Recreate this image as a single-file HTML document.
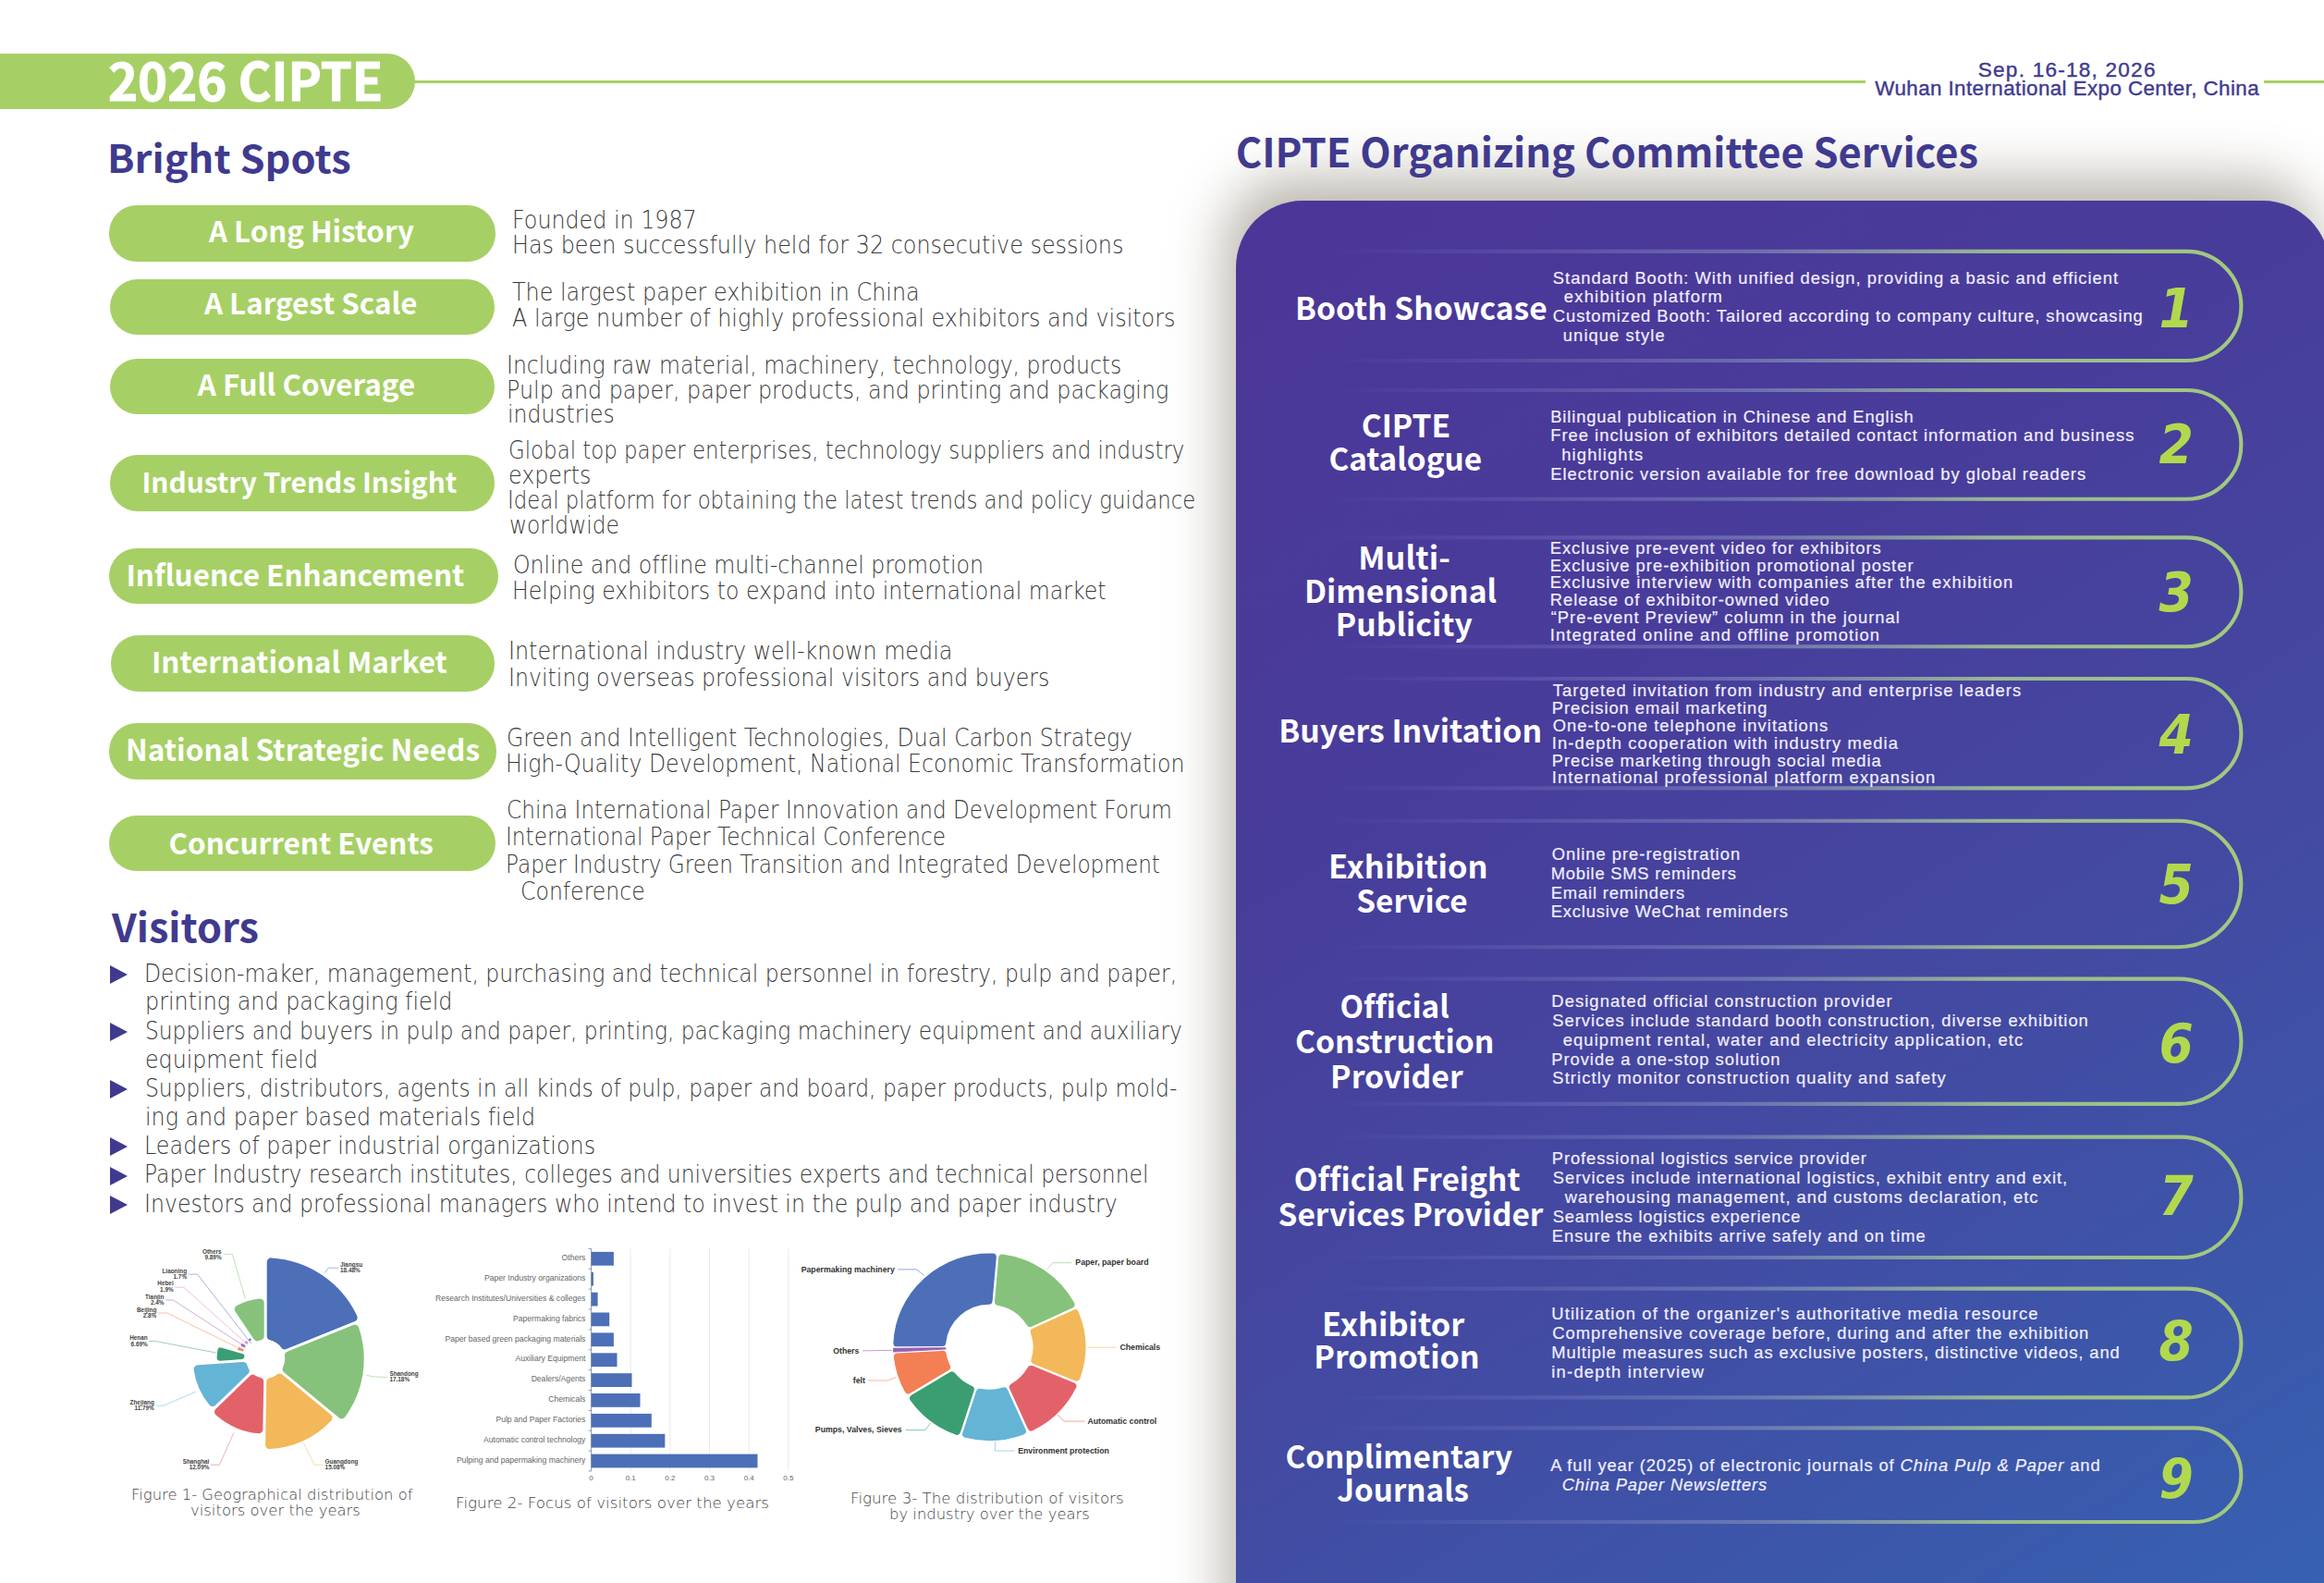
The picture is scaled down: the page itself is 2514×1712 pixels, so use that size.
<!DOCTYPE html>
<html lang="en">
<head>
<meta charset="utf-8">
<title>2026 CIPTE</title>
<style>
html,body{margin:0;padding:0}
body{width:2514px;height:1712px;position:relative;overflow:hidden;background:#fff;font-family:'Liberation Sans',sans-serif}
.abs,.t,.pill,.hp,.hl,.tri,.num,.panel{position:absolute}
header,main,section,article,figure{display:block;margin:0;padding:0;position:static}
h1,h2,h3,p,figcaption{margin:0;padding:0;font-weight:400}
.t{white-space:nowrap;margin:0;font-variant-ligatures:none}
.t.h{font-family:'Noto Sans CJK SC','Liberation Sans',sans-serif;font-weight:700}
.t.b{font-family:'Liberation Sans',sans-serif}
.t.n{font-family:'DejaVu Sans','Liberation Sans',sans-serif;font-weight:200}
.pill{background:#A6D065;border-radius:30px}
.tri{width:0;height:0;border-left:19px solid #403A8F;border-top:10.3px solid transparent;border-bottom:10.3px solid transparent}
.panel{left:1337px;top:216.6px;width:1183px;height:1800px;border-radius:72px;background-color:#3761B1;
 background-image:linear-gradient(148deg,#4C3697 0%,#483D9B 35%,#434AA2 62%,#3B58AB 85%,#3761B1 100%);background-size:100% 1496px;background-repeat:no-repeat;
 box-shadow:-12px -24px 58px rgba(60,50,25,0.36)}
.num{font-family:'DejaVu Sans Condensed','DejaVu Sans','Liberation Sans',sans-serif;font-weight:700;font-style:italic;color:#B2D94D;text-align:center}
svg text.cl{font-family:'Liberation Sans',sans-serif;font-weight:700;font-size:6.4px;fill:#444}
svg text.bl{font-family:'Liberation Sans',sans-serif;font-size:8.6px;fill:#666}
svg text.ax{font-family:'Liberation Sans',sans-serif;font-size:8px;fill:#666}
svg text.dl{font-family:'Liberation Sans',sans-serif;font-weight:700;font-size:8.75px;fill:#333}
</style>
</head>
<body>
<header>
<div class="hp" style="left:0;top:58px;width:449px;height:59.5px;border-radius:0 30px 30px 0;background:#A6D065"></div>
<div class="hl" style="left:440px;top:87.2px;width:1578px;height:3px;background:#A6D065"></div>
<div class="hl" style="left:2449px;top:87.2px;width:65px;height:3px;background:#A6D065"></div>
<h1 class="t h" style="left:117.0px;top:50.7px;font-size:56.30px;line-height:68px;color:#fff;transform:scaleX(0.9670);transform-origin:0 0;-webkit-text-stroke:1.1px #fff;">2026 CIPTE</h1>
<p class="t b" style="left:2139.8px;top:61.9px;font-size:22.60px;line-height:27px;color:#403A8F;letter-spacing:1.220px;-webkit-text-stroke:0.4px #403A8F;">Sep. 16-18, 2026</p>
<p class="t b" style="left:2028.3px;top:81.9px;font-size:22.40px;line-height:27px;color:#403A8F;letter-spacing:0.405px;-webkit-text-stroke:0.4px #403A8F;">Wuhan International Expo Center, China</p>
</header>
<div class="panel"></div>
<main>
<section id="bright-spots">
<h2 class="t h" style="left:116.1px;top:145.2px;font-size:41.20px;line-height:49px;color:#403A8F;transform:scaleX(1.0540);transform-origin:0 0;">Bright Spots</h2>
<article>
<div class="pill" style="left:118.0px;top:222.4px;width:417.8px;height:60.7px"></div>
<h3 class="t h" style="left:226.0px;top:229.5px;font-size:31.22px;line-height:37px;color:#fff;">A Long History</h3>
<p class="t n" style="left:553.9px;top:223.1px;font-size:26.00px;line-height:31px;color:#3a3a3a;transform:scaleX(0.9147);transform-origin:0 0;">Founded in 1987</p>
<p class="t n" style="left:553.8px;top:250.0px;font-size:26.00px;line-height:31px;color:#3a3a3a;transform:scaleX(0.9190);transform-origin:0 0;">Has been successfully held for 32 consecutive sessions</p>
</article>
<article>
<div class="pill" style="left:119.0px;top:301.8px;width:415.5px;height:59.9px"></div>
<h3 class="t h" style="left:220.9px;top:308.4px;font-size:31.31px;line-height:38px;color:#fff;">A Largest Scale</h3>
<p class="t n" style="left:553.8px;top:301.3px;font-size:26.00px;line-height:31px;color:#3a3a3a;transform:scaleX(0.9178);transform-origin:0 0;">The largest paper exhibition in China</p>
<p class="t n" style="left:553.8px;top:328.8px;font-size:26.00px;line-height:31px;color:#3a3a3a;transform:scaleX(0.9166);transform-origin:0 0;">A large number of highly professional exhibitors and visitors</p>
</article>
<article>
<div class="pill" style="left:119.0px;top:387.5px;width:415.5px;height:60.0px"></div>
<h3 class="t h" style="left:213.7px;top:395.6px;font-size:31.39px;line-height:38px;color:#fff;">A Full Coverage</h3>
<p class="t n" style="left:547.7px;top:379.7px;font-size:26.00px;line-height:31px;color:#3a3a3a;transform:scaleX(0.9048);transform-origin:0 0;">Including raw material, machinery, technology, products</p>
<p class="t n" style="left:547.7px;top:407.1px;font-size:26.00px;line-height:31px;color:#3a3a3a;transform:scaleX(0.9158);transform-origin:0 0;">Pulp and paper, paper products, and printing and packaging</p>
<p class="t n" style="left:548.6px;top:433.4px;font-size:26.00px;line-height:31px;color:#3a3a3a;transform:scaleX(0.9048);transform-origin:0 0;">industries</p>
</article>
<article>
<div class="pill" style="left:118.5px;top:492.3px;width:416.5px;height:60.3px"></div>
<h3 class="t h" style="left:153.4px;top:502.3px;font-size:29.89px;line-height:36px;color:#fff;">Industry Trends Insight</h3>
<p class="t n" style="left:549.7px;top:471.8px;font-size:26.00px;line-height:31px;color:#3a3a3a;transform:scaleX(0.8804);transform-origin:0 0;">Global top paper enterprises, technology suppliers and industry</p>
<p class="t n" style="left:549.7px;top:498.8px;font-size:26.00px;line-height:31px;color:#3a3a3a;transform:scaleX(0.9140);transform-origin:0 0;">experts</p>
<p class="t n" style="left:548.9px;top:525.8px;font-size:26.00px;line-height:31px;color:#3a3a3a;transform:scaleX(0.8776);transform-origin:0 0;">Ideal platform for obtaining the latest trends and policy guidance</p>
<p class="t n" style="left:550.6px;top:552.5px;font-size:26.00px;line-height:31px;color:#3a3a3a;transform:scaleX(0.8960);transform-origin:0 0;">worldwide</p>
</article>
<article>
<div class="pill" style="left:118.0px;top:592.9px;width:420.5px;height:60.3px"></div>
<h3 class="t h" style="left:136.5px;top:602.3px;font-size:31.44px;line-height:38px;color:#fff;">Influence Enhancement</h3>
<p class="t n" style="left:554.8px;top:596.2px;font-size:26.00px;line-height:31px;color:#3a3a3a;transform:scaleX(0.9100);transform-origin:0 0;">Online and offline multi-channel promotion</p>
<p class="t n" style="left:553.9px;top:623.6px;font-size:26.00px;line-height:31px;color:#3a3a3a;transform:scaleX(0.9091);transform-origin:0 0;">Helping exhibitors to expand into international market</p>
</article>
<article>
<div class="pill" style="left:119.5px;top:687.0px;width:415.0px;height:60.5px"></div>
<h3 class="t h" style="left:163.9px;top:696.2px;font-size:31.46px;line-height:38px;color:#fff;">International Market</h3>
<p class="t n" style="left:550.0px;top:688.5px;font-size:26.00px;line-height:31px;color:#3a3a3a;transform:scaleX(0.9158);transform-origin:0 0;">International industry well-known media</p>
<p class="t n" style="left:550.0px;top:717.6px;font-size:26.00px;line-height:31px;color:#3a3a3a;transform:scaleX(0.9098);transform-origin:0 0;">Inviting overseas professional visitors and buyers</p>
</article>
<article>
<div class="pill" style="left:117.5px;top:781.8px;width:419.0px;height:61.0px"></div>
<h3 class="t h" style="left:136.0px;top:789.6px;font-size:31.64px;line-height:38px;color:#fff;">National Strategic Needs</h3>
<p class="t n" style="left:548.1px;top:783.0px;font-size:26.00px;line-height:31px;color:#3a3a3a;transform:scaleX(0.9079);transform-origin:0 0;">Green and Intelligent Technologies, Dual Carbon Strategy</p>
<p class="t n" style="left:547.2px;top:810.5px;font-size:26.00px;line-height:31px;color:#3a3a3a;transform:scaleX(0.9092);transform-origin:0 0;">High-Quality Development, National Economic Transformation</p>
</article>
<article>
<div class="pill" style="left:118.0px;top:882.0px;width:417.5px;height:60.2px"></div>
<h3 class="t h" style="left:182.4px;top:892.3px;font-size:31.44px;line-height:38px;color:#fff;">Concurrent Events</h3>
<p class="t n" style="left:548.1px;top:861.4px;font-size:26.00px;line-height:31px;color:#3a3a3a;transform:scaleX(0.8915);transform-origin:0 0;">China International Paper Innovation and Development Forum</p>
<p class="t n" style="left:547.2px;top:890.4px;font-size:26.00px;line-height:31px;color:#3a3a3a;transform:scaleX(0.8945);transform-origin:0 0;">International Paper Technical Conference</p>
<p class="t n" style="left:547.2px;top:919.5px;font-size:26.00px;line-height:31px;color:#3a3a3a;transform:scaleX(0.8918);transform-origin:0 0;">Paper Industry Green Transition and Integrated Development</p>
<p class="t n" style="left:563.2px;top:948.6px;font-size:26.00px;line-height:31px;color:#3a3a3a;transform:scaleX(0.9067);transform-origin:0 0;">Conference</p>
</article>
</section>
<section id="visitors">
<h2 class="t h" style="left:121.3px;top:974.9px;font-size:42.30px;line-height:51px;color:#403A8F;transform:scaleX(1.0230);transform-origin:0 0;">Visitors</h2>
<div class="tri" style="left:118.6px;top:1044.1px"></div>
<div class="tri" style="left:118.6px;top:1106.2px"></div>
<div class="tri" style="left:118.6px;top:1168.2px"></div>
<div class="tri" style="left:118.6px;top:1230.3px"></div>
<div class="tri" style="left:118.6px;top:1261.7px"></div>
<div class="tri" style="left:118.6px;top:1293.0px"></div>
<p class="t n" style="left:155.6px;top:1037.7px;font-size:26.00px;line-height:31px;color:#3a3a3a;transform:scaleX(0.9042);transform-origin:0 0;">Decision-maker, management, purchasing and technical personnel in forestry, pulp and paper,</p>
<p class="t n" style="left:156.5px;top:1068.4px;font-size:26.00px;line-height:31px;color:#3a3a3a;transform:scaleX(0.9176);transform-origin:0 0;">printing and packaging field</p>
<p class="t n" style="left:156.5px;top:1099.8px;font-size:26.00px;line-height:31px;color:#3a3a3a;transform:scaleX(0.8972);transform-origin:0 0;">Suppliers and buyers in pulp and paper, printing, packaging machinery equipment and auxiliary</p>
<p class="t n" style="left:156.5px;top:1130.5px;font-size:26.00px;line-height:31px;color:#3a3a3a;transform:scaleX(0.9119);transform-origin:0 0;">equipment field</p>
<p class="t n" style="left:156.5px;top:1161.8px;font-size:26.00px;line-height:31px;color:#3a3a3a;transform:scaleX(0.9013);transform-origin:0 0;">Suppliers, distributors, agents in all kinds of pulp, paper and board, paper products, pulp mold-</p>
<p class="t n" style="left:156.5px;top:1193.2px;font-size:26.00px;line-height:31px;color:#3a3a3a;transform:scaleX(0.9138);transform-origin:0 0;">ing and paper based materials field</p>
<p class="t n" style="left:155.5px;top:1223.9px;font-size:26.00px;line-height:31px;color:#3a3a3a;transform:scaleX(0.9170);transform-origin:0 0;">Leaders of paper industrial organizations</p>
<p class="t n" style="left:155.6px;top:1255.3px;font-size:26.00px;line-height:31px;color:#3a3a3a;transform:scaleX(0.9028);transform-origin:0 0;">Paper Industry research institutes, colleges and universities experts and technical personnel</p>
<p class="t n" style="left:155.6px;top:1286.6px;font-size:26.00px;line-height:31px;color:#3a3a3a;transform:scaleX(0.9088);transform-origin:0 0;">Investors and professional managers who intend to invest in the pulp and paper industry</p>
<figure>
<svg class="abs" style="left:0;top:1330px" width="1300" height="382" viewBox="0 1330 1300 382">
<g id="fig1">
<path d="M293.20,1364.87 A105.00,105.00 0 0 1 382.15,1424.87 L307.93,1454.85 A25.50,25.50 0 0 0 293.20,1444.92 Z" fill="#4C6FB7" stroke="#4C6FB7" stroke-width="9" stroke-linejoin="round"/>
<path d="M383.86,1437.12 A102.00,102.00 0 0 1 369.59,1529.84 L310.14,1480.83 A25.50,25.50 0 0 0 312.43,1465.98 Z" fill="#86C27B" stroke="#86C27B" stroke-width="9" stroke-linejoin="round"/>
<path d="M355.00,1533.36 A93.00,93.00 0 0 1 291.58,1562.60 L292.77,1494.59 A25.50,25.50 0 0 0 302.51,1490.09 Z" fill="#F3B85A" stroke="#F3B85A" stroke-width="9" stroke-linejoin="round"/>
<path d="M279.87,1545.85 A76.50,76.50 0 0 1 236.51,1526.99 L273.54,1491.23 A25.50,25.50 0 0 0 280.77,1494.38 Z" fill="#E3626A" stroke="#E3626A" stroke-width="9" stroke-linejoin="round"/>
<path d="M229.98,1516.62 A74.00,74.00 0 0 1 214.04,1480.83 L262.89,1477.41 A25.50,25.50 0 0 0 265.20,1482.60 Z" fill="#64B4D6" stroke="#64B4D6" stroke-width="9" stroke-linejoin="round"/>
<path d="M237.61,1468.66 A49.60,49.60 0 0 1 238.48,1460.41 L261.43,1466.99 Z" fill="#3A9E72" stroke="#3A9E72" stroke-width="6" stroke-linejoin="round"/>
<path d="M257.18,1459.69 A31.65,31.65 0 0 1 258.19,1457.05 L263.41,1459.60 A25.85,25.85 0 0 0 262.76,1461.29 Z" fill="#F37F54" stroke="#F37F54" stroke-width="0.6" stroke-linejoin="round" opacity="0.9"/>
<path d="M260.72,1455.28 A30.15,30.15 0 0 1 262.04,1453.09 L265.52,1455.62 A25.85,25.85 0 0 0 264.59,1457.17 Z" fill="#9560B0" stroke="#9560B0" stroke-width="0.6" stroke-linejoin="round" opacity="0.9"/>
<path d="M264.84,1451.79 A28.65,28.65 0 0 1 266.35,1450.05 L268.30,1452.07 A25.85,25.85 0 0 0 267.11,1453.43 Z" fill="#E57FC8" stroke="#E57FC8" stroke-width="0.6" stroke-linejoin="round" opacity="0.9"/>
<path d="M268.99,1448.90 A27.65,27.65 0 0 1 270.64,1447.56 L271.65,1449.05 A25.85,25.85 0 0 0 270.24,1450.19 Z" fill="#4C6FB7" stroke="#4C6FB7" stroke-width="0.6" stroke-linejoin="round" opacity="0.9"/>
<path d="M258.23,1416.02 A61.00,61.00 0 0 1 281.20,1409.00 L281.20,1444.92 A25.50,25.50 0 0 0 278.32,1445.80 Z" fill="#86C27B" stroke="#86C27B" stroke-width="9" stroke-linejoin="round"/>
<polyline points="366.4,1371.2 355.2,1371.2 351.6,1376.5" fill="none" stroke="#4C6FB7" stroke-width="0.6" opacity="0.85"/>
<text x="368.0" y="1369.9" text-anchor="start" class="cl">Jiangsu</text>
<text x="368.0" y="1376.4" text-anchor="start" class="cl">18.48%</text>
<polyline points="419.2,1489.5 402.8,1488.8 396.3,1487.2" fill="none" stroke="#86C27B" stroke-width="0.6" opacity="0.85"/>
<text x="421.4" y="1487.7" text-anchor="start" class="cl">Shandong</text>
<text x="421.4" y="1494.2" text-anchor="start" class="cl">17.18%</text>
<polyline points="349.9,1584.2 340.1,1584.2 328.6,1560.9" fill="none" stroke="#F3B85A" stroke-width="0.6" opacity="0.85"/>
<text x="351.6" y="1582.9" text-anchor="start" class="cl">Guangdong</text>
<text x="351.6" y="1589.4" text-anchor="start" class="cl">15.08%</text>
<polyline points="227.9,1584.2 237.4,1584.2 253.0,1549.4" fill="none" stroke="#E3626A" stroke-width="0.6" opacity="0.85"/>
<text x="226.4" y="1582.9" text-anchor="end" class="cl">Shanghai</text>
<text x="226.4" y="1589.4" text-anchor="end" class="cl">12.09%</text>
<polyline points="168.5,1520.2 176.7,1520.2 212.0,1505.1" fill="none" stroke="#64B4D6" stroke-width="0.6" opacity="0.85"/>
<text x="166.8" y="1518.9" text-anchor="end" class="cl">Zhejiang</text>
<text x="166.8" y="1525.4" text-anchor="end" class="cl">11.79%</text>
<polyline points="161.1,1450.4 167.6,1450.4 233.3,1462.9" fill="none" stroke="#3A9E72" stroke-width="0.6" opacity="0.85"/>
<text x="159.7" y="1449.1" text-anchor="end" class="cl">Henan</text>
<text x="159.7" y="1455.6" text-anchor="end" class="cl">6.69%</text>
<polyline points="170.9,1420.0 180.8,1420.0 256.3,1456.9" fill="none" stroke="#F37F54" stroke-width="0.6" opacity="0.85"/>
<text x="169.3" y="1418.7" text-anchor="end" class="cl">Beijing</text>
<text x="169.3" y="1425.2" text-anchor="end" class="cl">2.8%</text>
<polyline points="179.1,1406.0 187.3,1406.0 262.9,1455.0" fill="none" stroke="#9560B0" stroke-width="0.6" opacity="0.85"/>
<text x="177.5" y="1404.7" text-anchor="end" class="cl">Tianjin</text>
<text x="177.5" y="1411.2" text-anchor="end" class="cl">2.4%</text>
<polyline points="189.0,1392.2 198.8,1392.2 267.8,1454.1" fill="none" stroke="#E57FC8" stroke-width="0.6" opacity="0.85"/>
<text x="187.7" y="1390.4" text-anchor="end" class="cl">Hebei</text>
<text x="187.7" y="1396.9" text-anchor="end" class="cl">1.9%</text>
<polyline points="203.8,1378.1 213.6,1378.1 271.9,1453.3" fill="none" stroke="#4C6FB7" stroke-width="0.6" opacity="0.85"/>
<text x="202.1" y="1376.5" text-anchor="end" class="cl">Liaoning</text>
<text x="202.1" y="1383.0" text-anchor="end" class="cl">1.7%</text>
<polyline points="241.5,1356.4 251.4,1356.4 265.4,1404.9" fill="none" stroke="#86C27B" stroke-width="0.6" opacity="0.85"/>
<text x="239.6" y="1355.8" text-anchor="end" class="cl">Others</text>
<text x="239.6" y="1362.3" text-anchor="end" class="cl">9.89%</text>
</g>
<g id="fig2">
<line x1="682.2" y1="1350.4" x2="682.2" y2="1591" stroke="#e4e4e8" stroke-width="0.8"/>
<line x1="724.9" y1="1350.4" x2="724.9" y2="1591" stroke="#e4e4e8" stroke-width="0.8"/>
<line x1="767.5" y1="1350.4" x2="767.5" y2="1591" stroke="#e4e4e8" stroke-width="0.8"/>
<line x1="810.2" y1="1350.4" x2="810.2" y2="1591" stroke="#e4e4e8" stroke-width="0.8"/>
<line x1="852.8" y1="1350.4" x2="852.8" y2="1591" stroke="#e4e4e8" stroke-width="0.8"/>
<line x1="639.6" y1="1350.4" x2="639.6" y2="1591" stroke="#6a6f7a" stroke-width="0.7"/>
<line x1="636.6" y1="1350.4" x2="639.6" y2="1350.4" stroke="#6a6f7a" stroke-width="0.7"/>
<line x1="636.6" y1="1372.3" x2="639.6" y2="1372.3" stroke="#6a6f7a" stroke-width="0.7"/>
<line x1="636.6" y1="1394.1" x2="639.6" y2="1394.1" stroke="#6a6f7a" stroke-width="0.7"/>
<line x1="636.6" y1="1416.0" x2="639.6" y2="1416.0" stroke="#6a6f7a" stroke-width="0.7"/>
<line x1="636.6" y1="1437.9" x2="639.6" y2="1437.9" stroke="#6a6f7a" stroke-width="0.7"/>
<line x1="636.6" y1="1459.8" x2="639.6" y2="1459.8" stroke="#6a6f7a" stroke-width="0.7"/>
<line x1="636.6" y1="1481.6" x2="639.6" y2="1481.6" stroke="#6a6f7a" stroke-width="0.7"/>
<line x1="636.6" y1="1503.5" x2="639.6" y2="1503.5" stroke="#6a6f7a" stroke-width="0.7"/>
<line x1="636.6" y1="1525.4" x2="639.6" y2="1525.4" stroke="#6a6f7a" stroke-width="0.7"/>
<line x1="636.6" y1="1547.2" x2="639.6" y2="1547.2" stroke="#6a6f7a" stroke-width="0.7"/>
<line x1="636.6" y1="1569.1" x2="639.6" y2="1569.1" stroke="#6a6f7a" stroke-width="0.7"/>
<line x1="636.6" y1="1591.0" x2="639.6" y2="1591.0" stroke="#6a6f7a" stroke-width="0.7"/>
<rect x="639.6" y="1353.9" width="24.3" height="14.8" fill="#4C6FB7"/>
<text x="633.4" y="1363.0" text-anchor="end" class="bl">Others</text>
<rect x="639.6" y="1375.8" width="2.3" height="14.8" fill="#4C6FB7"/>
<text x="633.4" y="1384.9" text-anchor="end" class="bl">Paper Industry organizations</text>
<rect x="639.6" y="1397.7" width="7.0" height="14.8" fill="#4C6FB7"/>
<text x="633.4" y="1406.8" text-anchor="end" class="bl">Research Institutes/Universities &amp; colleges</text>
<rect x="639.6" y="1419.5" width="19.6" height="14.8" fill="#4C6FB7"/>
<text x="633.4" y="1428.6" text-anchor="end" class="bl">Papermaking fabrics</text>
<rect x="639.6" y="1441.4" width="24.3" height="14.8" fill="#4C6FB7"/>
<text x="633.4" y="1450.5" text-anchor="end" class="bl">Paper based green packaging materials</text>
<rect x="639.6" y="1463.3" width="27.9" height="14.8" fill="#4C6FB7"/>
<text x="633.4" y="1472.4" text-anchor="end" class="bl">Auxiliary Equipment</text>
<rect x="639.6" y="1485.2" width="43.9" height="14.8" fill="#4C6FB7"/>
<text x="633.4" y="1494.3" text-anchor="end" class="bl">Dealers/Agents</text>
<rect x="639.6" y="1507.0" width="52.9" height="14.8" fill="#4C6FB7"/>
<text x="633.4" y="1516.1" text-anchor="end" class="bl">Chemicals</text>
<rect x="639.6" y="1528.9" width="65.2" height="14.8" fill="#4C6FB7"/>
<text x="633.4" y="1538.0" text-anchor="end" class="bl">Pulp and Paper Factories</text>
<rect x="639.6" y="1550.8" width="79.7" height="14.8" fill="#4C6FB7"/>
<text x="633.4" y="1559.9" text-anchor="end" class="bl">Automatic control technology</text>
<rect x="639.6" y="1572.6" width="179.9" height="14.8" fill="#4C6FB7"/>
<text x="633.4" y="1581.7" text-anchor="end" class="bl">Pulping and papermaking machinery</text>
<text x="639.6" y="1601.2" text-anchor="middle" class="ax">0</text>
<text x="682.2" y="1601.2" text-anchor="middle" class="ax">0.1</text>
<text x="724.9" y="1601.2" text-anchor="middle" class="ax">0.2</text>
<text x="767.5" y="1601.2" text-anchor="middle" class="ax">0.3</text>
<text x="810.2" y="1601.2" text-anchor="middle" class="ax">0.4</text>
<text x="852.8" y="1601.2" text-anchor="middle" class="ax">0.5</text>
</g>
<g id="fig3">
<g transform="translate(1070.3,1456.8) scale(1.012,0.985) translate(-1070.3,-1456.8)">
<path d="M971.60,1452.29 A98.80,98.80 0 0 1 1073.72,1358.06 L1069.52,1406.11 A50.70,50.70 0 0 0 1019.83,1451.95 Z" fill="#4C6FB7" stroke="#4C6FB7" stroke-width="8" stroke-linejoin="round"/>
<path d="M1084.08,1358.97 A98.80,98.80 0 0 1 1157.44,1410.24 L1113.76,1430.70 A50.70,50.70 0 0 0 1079.88,1407.01 Z" fill="#86C27B" stroke="#86C27B" stroke-width="8" stroke-linejoin="round"/>
<path d="M1161.85,1419.66 A98.80,98.80 0 0 1 1163.33,1490.08 L1118.83,1471.47 A50.70,50.70 0 0 0 1118.18,1440.12 Z" fill="#F3B85A" stroke="#F3B85A" stroke-width="8" stroke-linejoin="round"/>
<path d="M1159.31,1499.67 A98.80,98.80 0 0 1 1115.03,1544.90 L1095.49,1500.80 A50.70,50.70 0 0 0 1114.82,1481.06 Z" fill="#E3626A" stroke="#E3626A" stroke-width="8" stroke-linejoin="round"/>
<path d="M1105.52,1549.11 A98.80,98.80 0 0 1 1045.42,1552.42 L1060.01,1506.44 A50.70,50.70 0 0 0 1085.98,1505.01 Z" fill="#64B4D6" stroke="#64B4D6" stroke-width="8" stroke-linejoin="round"/>
<path d="M1035.51,1549.27 A98.80,98.80 0 0 1 989.09,1513.07 L1030.12,1487.73 A50.70,50.70 0 0 0 1050.09,1503.30 Z" fill="#3A9E72" stroke="#3A9E72" stroke-width="8" stroke-linejoin="round"/>
<path d="M983.62,1504.22 A98.80,98.80 0 0 1 972.10,1467.67 L1020.25,1464.89 A50.70,50.70 0 0 0 1024.66,1478.88 Z" fill="#F37F54" stroke="#F37F54" stroke-width="8" stroke-linejoin="round"/>
<path d="M967.94,1462.20 A102.50,102.50 0 0 1 967.81,1458.37 L1023.31,1457.79 A47.00,47.00 0 0 0 1023.35,1459.01 Z" fill="#9560B0" stroke="#9560B0" stroke-width="1" stroke-linejoin="round"/>
</g>
<polyline points="971.3,1372.9 991.5,1372.9 999.6,1379.4" fill="none" stroke="#4C6FB7" stroke-width="0.7" opacity="0.85"/>
<text x="967.8" y="1375.5" text-anchor="end" class="dl">Papermaking machinery</text>
<polyline points="1159.2,1365.7 1139.0,1365.7 1133.0,1372.3" fill="none" stroke="#86C27B" stroke-width="0.7" opacity="0.85"/>
<text x="1163.3" y="1368.1" text-anchor="start" class="dl">Paper, paper board</text>
<polyline points="1207.7,1457.2 1176.4,1457.2" fill="none" stroke="#F3B85A" stroke-width="0.7" opacity="0.85"/>
<text x="1211.4" y="1460.0" text-anchor="start" class="dl">Chemicals</text>
<polyline points="1173.4,1537.1 1151.2,1537.1 1144.1,1530.0" fill="none" stroke="#E3626A" stroke-width="0.7" opacity="0.85"/>
<text x="1176.4" y="1539.7" text-anchor="start" class="dl">Automatic control</text>
<polyline points="1097.6,1569.0 1076.4,1569.0 1076.4,1559.3" fill="none" stroke="#64B4D6" stroke-width="0.7" opacity="0.85"/>
<text x="1101.2" y="1571.6" text-anchor="start" class="dl">Environment protection</text>
<polyline points="979.4,1546.6 1000.6,1546.6 1006.6,1539.1" fill="none" stroke="#3A9E72" stroke-width="0.7" opacity="0.85"/>
<text x="975.7" y="1549.4" text-anchor="end" class="dl">Pumps, Valves, Sieves</text>
<polyline points="938.9,1493.0 960.2,1493.0 969.2,1489.6" fill="none" stroke="#F37F54" stroke-width="0.7" opacity="0.85"/>
<text x="935.9" y="1495.8" text-anchor="end" class="dl">felt</text>
<polyline points="932.9,1460.9 965.2,1460.3" fill="none" stroke="#9560B0" stroke-width="0.7" opacity="0.85"/>
<text x="929.4" y="1463.5" text-anchor="end" class="dl">Others</text>
</g>
</svg>
<figcaption class="t n" style="left:141.7px;top:1606.5px;font-size:16.60px;line-height:20px;color:#444;transform:scaleX(0.9886);transform-origin:0 0;">Figure 1- Geographical distribution of</figcaption>
<figcaption class="t n" style="left:205.9px;top:1623.9px;font-size:16.60px;line-height:20px;color:#444;transform:scaleX(0.9913);transform-origin:0 0;">visitors over the years</figcaption>
<figcaption class="t n" style="left:493.0px;top:1616.0px;font-size:16.60px;line-height:20px;color:#444;transform:scaleX(1.0072);transform-origin:0 0;">Figure 2- Focus of visitors over the years</figcaption>
<figcaption class="t n" style="left:919.8px;top:1610.9px;font-size:16.60px;line-height:20px;color:#444;transform:scaleX(1.0048);transform-origin:0 0;">Figure 3- The distribution of visitors</figcaption>
<figcaption class="t n" style="left:962.2px;top:1628.2px;font-size:16.60px;line-height:20px;color:#444;transform:scaleX(0.9886);transform-origin:0 0;">by industry over the years</figcaption>
</figure>
</section>
<section id="services">
<h2 class="t h" style="left:1336.7px;top:136.8px;font-size:43.43px;line-height:52px;color:#403A8F;">CIPTE Organizing Committee Services</h2>
<svg class="abs" style="left:0;top:0" width="2514" height="1712" viewBox="0 0 2514 1712">
<defs><linearGradient id="cg" gradientUnits="userSpaceOnUse" x1="1440" y1="0" x2="2430" y2="0"><stop offset="0" stop-color="#8f86d0" stop-opacity="0"/><stop offset="0.2" stop-color="#8f8ad0" stop-opacity="0.22"/><stop offset="0.45" stop-color="#8f9cc0" stop-opacity="0.5"/><stop offset="0.72" stop-color="#9dbd92" stop-opacity="0.95"/><stop offset="1" stop-color="#a3ca7c" stop-opacity="1"/></linearGradient></defs>
<path d="M1440,271.90 H2365.350 A59.050,59.050 0 0 1 2365.350,390.00 H1440" fill="none" stroke="url(#cg)" stroke-width="4.1"/>
<path d="M1440,422.00 H2365.500 A58.900,58.900 0 0 1 2365.500,539.80 H1440" fill="none" stroke="url(#cg)" stroke-width="4.1"/>
<path d="M1440,581.40 H2365.500 A58.900,58.900 0 0 1 2365.500,699.20 H1440" fill="none" stroke="url(#cg)" stroke-width="4.1"/>
<path d="M1440,734.00 H2365.200 A59.200,59.200 0 0 1 2365.200,852.40 H1440" fill="none" stroke="url(#cg)" stroke-width="4.1"/>
<path d="M1440,887.80 H2356.200 A68.200,68.200 0 0 1 2356.200,1024.20 H1440" fill="none" stroke="url(#cg)" stroke-width="4.1"/>
<path d="M1440,1058.60 H2356.750 A67.650,67.650 0 0 1 2356.750,1193.90 H1440" fill="none" stroke="url(#cg)" stroke-width="4.1"/>
<path d="M1440,1229.60 H2359.200 A65.200,65.200 0 0 1 2359.200,1360.00 H1440" fill="none" stroke="url(#cg)" stroke-width="4.1"/>
<path d="M1440,1393.60 H2365.500 A58.900,58.900 0 0 1 2365.500,1511.40 H1440" fill="none" stroke="url(#cg)" stroke-width="4.1"/>
<path d="M1440,1544.40 H2373.600 A50.800,50.800 0 0 1 2373.600,1646.00 H1440" fill="none" stroke="url(#cg)" stroke-width="4.1"/>
</svg>
<article>
<h3 class="t h" style="left:1401.0px;top:311.6px;font-size:33.63px;line-height:40px;color:#fff;">Booth Showcase</h3>
<p class="t b" style="left:1679.8px;top:289.9px;font-size:18.40px;line-height:22px;color:#F1EEFF;letter-spacing:0.981px;-webkit-text-stroke:0.2px #F1EEFF;">Standard Booth: With unified design, providing a basic and efficient</p>
<p class="t b" style="left:1691.8px;top:310.2px;font-size:18.40px;line-height:22px;color:#F1EEFF;letter-spacing:1.215px;-webkit-text-stroke:0.2px #F1EEFF;">exhibition platform</p>
<p class="t b" style="left:1679.8px;top:331.1px;font-size:18.40px;line-height:22px;color:#F1EEFF;letter-spacing:0.937px;-webkit-text-stroke:0.2px #F1EEFF;">Customized Booth: Tailored according to company culture, showcasing</p>
<p class="t b" style="left:1690.8px;top:352.0px;font-size:18.40px;line-height:22px;color:#F1EEFF;letter-spacing:1.062px;-webkit-text-stroke:0.2px #F1EEFF;">unique style</p>
<div class="num" style="left:2314px;top:298.6px;width:80px;line-height:70px;font-size:59.5px">1</div>
</article>
<article>
<h3 class="t h" style="left:1472.7px;top:438.8px;font-size:33.62px;line-height:40px;color:#fff;">CIPTE</h3>
<h3 class="t h" style="left:1437.4px;top:474.8px;font-size:33.35px;line-height:40px;color:#fff;">Catalogue</h3>
<p class="t b" style="left:1677.2px;top:439.8px;font-size:18.40px;line-height:22px;color:#F1EEFF;letter-spacing:0.854px;-webkit-text-stroke:0.2px #F1EEFF;">Bilingual publication in Chinese and English</p>
<p class="t b" style="left:1677.2px;top:460.2px;font-size:18.40px;line-height:22px;color:#F1EEFF;letter-spacing:0.999px;-webkit-text-stroke:0.2px #F1EEFF;">Free inclusion of exhibitors detailed contact information and business</p>
<p class="t b" style="left:1689.2px;top:481.1px;font-size:18.40px;line-height:22px;color:#F1EEFF;letter-spacing:1.133px;-webkit-text-stroke:0.2px #F1EEFF;">highlights</p>
<p class="t b" style="left:1677.2px;top:502.0px;font-size:18.40px;line-height:22px;color:#F1EEFF;letter-spacing:0.996px;-webkit-text-stroke:0.2px #F1EEFF;">Electronic version available for free download by global readers</p>
<div class="num" style="left:2314px;top:445.5px;width:80px;line-height:70px;font-size:59.5px">2</div>
</article>
<article>
<h3 class="t h" style="left:1469.3px;top:580.5px;font-size:34.35px;line-height:41px;color:#fff;">Multi-</h3>
<h3 class="t h" style="left:1410.9px;top:618.0px;font-size:33.74px;line-height:40px;color:#fff;">Dimensional</h3>
<h3 class="t h" style="left:1444.8px;top:653.5px;font-size:33.68px;line-height:40px;color:#fff;">Publicity</h3>
<p class="t b" style="left:1676.7px;top:581.7px;font-size:18.40px;line-height:22px;color:#F1EEFF;letter-spacing:0.976px;-webkit-text-stroke:0.2px #F1EEFF;">Exclusive pre-event video for exhibitors</p>
<p class="t b" style="left:1676.7px;top:600.5px;font-size:18.40px;line-height:22px;color:#F1EEFF;letter-spacing:1.007px;-webkit-text-stroke:0.2px #F1EEFF;">Exclusive pre-exhibition promotional poster</p>
<p class="t b" style="left:1676.7px;top:619.3px;font-size:18.40px;line-height:22px;color:#F1EEFF;letter-spacing:1.074px;-webkit-text-stroke:0.2px #F1EEFF;">Exclusive interview with companies after the exhibition</p>
<p class="t b" style="left:1676.7px;top:638.1px;font-size:18.40px;line-height:22px;color:#F1EEFF;letter-spacing:0.974px;-webkit-text-stroke:0.2px #F1EEFF;">Release of exhibitor-owned video</p>
<p class="t b" style="left:1677.7px;top:657.0px;font-size:18.40px;line-height:22px;color:#F1EEFF;letter-spacing:0.997px;-webkit-text-stroke:0.2px #F1EEFF;">“Pre-event Preview” column in the journal</p>
<p class="t b" style="left:1676.7px;top:675.7px;font-size:18.40px;line-height:22px;color:#F1EEFF;letter-spacing:1.128px;-webkit-text-stroke:0.2px #F1EEFF;">Integrated online and offline promotion</p>
<div class="num" style="left:2314px;top:606.1px;width:80px;line-height:70px;font-size:59.5px">3</div>
</article>
<article>
<h3 class="t h" style="left:1383.2px;top:767.8px;font-size:33.82px;line-height:41px;color:#fff;">Buyers Invitation</h3>
<p class="t b" style="left:1679.8px;top:736.4px;font-size:18.40px;line-height:22px;color:#F1EEFF;letter-spacing:1.048px;-webkit-text-stroke:0.2px #F1EEFF;">Targeted invitation from industry and enterprise leaders</p>
<p class="t b" style="left:1678.8px;top:755.2px;font-size:18.40px;line-height:22px;color:#F1EEFF;letter-spacing:0.920px;-webkit-text-stroke:0.2px #F1EEFF;">Precision email marketing</p>
<p class="t b" style="left:1679.8px;top:774.0px;font-size:18.40px;line-height:22px;color:#F1EEFF;letter-spacing:1.019px;-webkit-text-stroke:0.2px #F1EEFF;">One-to-one telephone invitations</p>
<p class="t b" style="left:1678.8px;top:792.7px;font-size:18.40px;line-height:22px;color:#F1EEFF;letter-spacing:1.103px;-webkit-text-stroke:0.2px #F1EEFF;">In-depth cooperation with industry media</p>
<p class="t b" style="left:1678.8px;top:811.6px;font-size:18.40px;line-height:22px;color:#F1EEFF;letter-spacing:0.917px;-webkit-text-stroke:0.2px #F1EEFF;">Precise marketing through social media</p>
<p class="t b" style="left:1678.8px;top:830.4px;font-size:18.40px;line-height:22px;color:#F1EEFF;letter-spacing:1.101px;-webkit-text-stroke:0.2px #F1EEFF;">International professional platform expansion</p>
<div class="num" style="left:2314px;top:760.1px;width:80px;line-height:70px;font-size:59.5px">4</div>
</article>
<article>
<h3 class="t h" style="left:1436.9px;top:914.7px;font-size:34.46px;line-height:41px;color:#fff;">Exhibition</h3>
<h3 class="t h" style="left:1467.2px;top:953.0px;font-size:33.37px;line-height:40px;color:#fff;">Service</h3>
<p class="t b" style="left:1678.7px;top:912.9px;font-size:18.40px;line-height:22px;color:#F1EEFF;letter-spacing:0.976px;-webkit-text-stroke:0.2px #F1EEFF;">Online pre-registration</p>
<p class="t b" style="left:1677.7px;top:933.8px;font-size:18.40px;line-height:22px;color:#F1EEFF;letter-spacing:0.752px;-webkit-text-stroke:0.2px #F1EEFF;">Mobile SMS reminders</p>
<p class="t b" style="left:1677.7px;top:954.7px;font-size:18.40px;line-height:22px;color:#F1EEFF;letter-spacing:0.824px;-webkit-text-stroke:0.2px #F1EEFF;">Email reminders</p>
<p class="t b" style="left:1677.7px;top:975.1px;font-size:18.40px;line-height:22px;color:#F1EEFF;letter-spacing:0.818px;-webkit-text-stroke:0.2px #F1EEFF;">Exclusive WeChat reminders</p>
<div class="num" style="left:2314px;top:921.9px;width:80px;line-height:70px;font-size:59.5px">5</div>
</article>
<article>
<h3 class="t h" style="left:1449.4px;top:1067.1px;font-size:33.29px;line-height:40px;color:#fff;">Official</h3>
<h3 class="t h" style="left:1400.9px;top:1105.2px;font-size:33.71px;line-height:40px;color:#fff;">Construction</h3>
<h3 class="t h" style="left:1439.1px;top:1141.7px;font-size:33.80px;line-height:41px;color:#fff;">Provider</h3>
<p class="t b" style="left:1678.3px;top:1072.3px;font-size:18.40px;line-height:22px;color:#F1EEFF;letter-spacing:1.064px;-webkit-text-stroke:0.2px #F1EEFF;">Designated official construction provider</p>
<p class="t b" style="left:1679.3px;top:1093.2px;font-size:18.40px;line-height:22px;color:#F1EEFF;letter-spacing:0.972px;-webkit-text-stroke:0.2px #F1EEFF;">Services include standard booth construction, diverse exhibition</p>
<p class="t b" style="left:1690.7px;top:1114.1px;font-size:18.40px;line-height:22px;color:#F1EEFF;letter-spacing:1.090px;-webkit-text-stroke:0.2px #F1EEFF;">equipment rental, water and electricity application, etc</p>
<p class="t b" style="left:1678.3px;top:1135.0px;font-size:18.40px;line-height:22px;color:#F1EEFF;letter-spacing:0.937px;-webkit-text-stroke:0.2px #F1EEFF;">Provide a one-stop solution</p>
<p class="t b" style="left:1679.3px;top:1155.4px;font-size:18.40px;line-height:22px;color:#F1EEFF;letter-spacing:1.091px;-webkit-text-stroke:0.2px #F1EEFF;">Strictly monitor construction quality and safety</p>
<div class="num" style="left:2314px;top:1093.6px;width:80px;line-height:70px;font-size:59.5px">6</div>
</article>
<article>
<h3 class="t h" style="left:1399.8px;top:1253.9px;font-size:33.48px;line-height:40px;color:#fff;">Official Freight</h3>
<h3 class="t h" style="left:1382.6px;top:1292.0px;font-size:33.41px;line-height:40px;color:#fff;">Services Provider</h3>
<p class="t b" style="left:1678.8px;top:1242.1px;font-size:18.40px;line-height:22px;color:#F1EEFF;letter-spacing:0.881px;-webkit-text-stroke:0.2px #F1EEFF;">Professional logistics service provider</p>
<p class="t b" style="left:1679.8px;top:1263.0px;font-size:18.40px;line-height:22px;color:#F1EEFF;letter-spacing:0.979px;-webkit-text-stroke:0.2px #F1EEFF;">Services include international logistics, exhibit entry and exit,</p>
<p class="t b" style="left:1692.8px;top:1283.9px;font-size:18.40px;line-height:22px;color:#F1EEFF;letter-spacing:0.993px;-webkit-text-stroke:0.2px #F1EEFF;">warehousing management, and customs declaration, etc</p>
<p class="t b" style="left:1679.8px;top:1304.8px;font-size:18.40px;line-height:22px;color:#F1EEFF;letter-spacing:0.760px;-webkit-text-stroke:0.2px #F1EEFF;">Seamless logistics experience</p>
<p class="t b" style="left:1678.8px;top:1325.7px;font-size:18.40px;line-height:22px;color:#F1EEFF;letter-spacing:0.956px;-webkit-text-stroke:0.2px #F1EEFF;">Ensure the exhibits arrive safely and on time</p>
<div class="num" style="left:2314px;top:1259.4px;width:80px;line-height:70px;font-size:59.5px">7</div>
</article>
<article>
<h3 class="t h" style="left:1430.1px;top:1410.1px;font-size:34.36px;line-height:41px;color:#fff;">Exhibitor</h3>
<h3 class="t h" style="left:1421.2px;top:1445.4px;font-size:34.06px;line-height:41px;color:#fff;">Promotion</h3>
<p class="t b" style="left:1678.3px;top:1410.3px;font-size:18.40px;line-height:22px;color:#F1EEFF;letter-spacing:1.099px;-webkit-text-stroke:0.2px #F1EEFF;">Utilization of the organizer's authoritative media resource</p>
<p class="t b" style="left:1679.3px;top:1431.2px;font-size:18.40px;line-height:22px;color:#F1EEFF;letter-spacing:0.995px;-webkit-text-stroke:0.2px #F1EEFF;">Comprehensive coverage before, during and after the exhibition</p>
<p class="t b" style="left:1678.3px;top:1451.6px;font-size:18.40px;line-height:22px;color:#F1EEFF;letter-spacing:0.902px;-webkit-text-stroke:0.2px #F1EEFF;">Multiple measures such as exclusive posters, distinctive videos, and</p>
<p class="t b" style="left:1678.3px;top:1472.5px;font-size:18.40px;line-height:22px;color:#F1EEFF;letter-spacing:1.214px;-webkit-text-stroke:0.2px #F1EEFF;">in-depth interview</p>
<div class="num" style="left:2314px;top:1416.4px;width:80px;line-height:70px;font-size:59.5px">8</div>
</article>
<article>
<h3 class="t h" style="left:1390.4px;top:1554.0px;font-size:33.27px;line-height:40px;color:#fff;">Conplimentary</h3>
<h3 class="t h" style="left:1446.3px;top:1589.7px;font-size:33.11px;line-height:40px;color:#fff;">Journals</h3>
<p class="t b" style="left:1677.2px;top:1573.8px;font-size:18.40px;line-height:22px;color:#F1EEFF;letter-spacing:0.890px;-webkit-text-stroke:0.2px #F1EEFF;">A full year (2025) of electronic journals of <i>China Pulp &amp; Paper</i> and</p>
<p class="t b" style="left:1689.7px;top:1594.7px;font-size:18.40px;line-height:22px;color:#F1EEFF;letter-spacing:0.822px;-webkit-text-stroke:0.2px #F1EEFF;"><i>China Paper Newsletters</i></p>
<div class="num" style="left:2314px;top:1565.3px;width:80px;line-height:70px;font-size:59.5px">9</div>
</article>
</section>
</main>
</body>
</html>
